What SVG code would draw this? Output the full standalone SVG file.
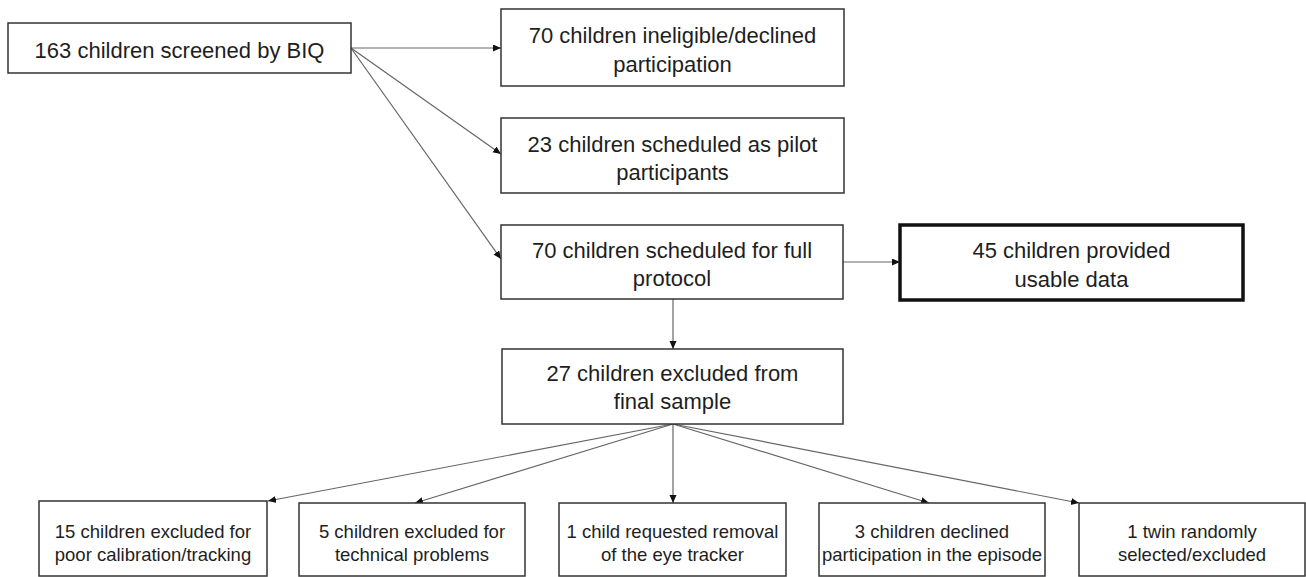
<svg xmlns="http://www.w3.org/2000/svg" width="1306" height="577" viewBox="0 0 1306 577">
<defs>
<style>
.box{fill:#fff;stroke:#333;stroke-width:1.5}
.thick{fill:#fff;stroke:#111;stroke-width:3.5}
.t{font-family:"Liberation Sans",Arial,sans-serif;font-size:22px;fill:#1e1e1e;text-anchor:middle}
.s{font-family:"Liberation Sans",Arial,sans-serif;font-size:18.5px;fill:#1e1e1e;text-anchor:middle}
.c{fill:none;stroke:#666;stroke-width:1.2;marker-end:url(#arr)}
</style>
<marker id="arr" markerUnits="userSpaceOnUse" markerWidth="9" markerHeight="8" refX="8" refY="3.5" orient="auto">
<path d="M0,0 L8,3.5 L0,7 z" fill="#111"/>
</marker>
</defs>
<rect width="1306" height="577" fill="#fff"/>
<g id="connectors">
<line class="c" x1="351" y1="48" x2="501" y2="48"/>
<line class="c" x1="351" y1="48" x2="501" y2="154"/>
<line class="c" x1="351" y1="48" x2="501" y2="259"/>
<line class="c" x1="843" y1="262" x2="900" y2="262"/>
<line class="c" x1="673" y1="299" x2="673" y2="349"/>
<line class="c" x1="673" y1="424" x2="268" y2="501"/>
<line class="c" x1="673" y1="424" x2="415" y2="503"/>
<line class="c" x1="673" y1="424" x2="673" y2="503"/>
<line class="c" x1="673" y1="424" x2="929" y2="503"/>
<line class="c" x1="673" y1="424" x2="1079" y2="503"/>
</g>
<g id="n1"><rect class="box" x="8" y="23" width="343" height="50"/><text class="t" x="179.5" y="57.5">163 children screened by BIQ</text></g>
<g id="n2"><rect class="box" x="501" y="9" width="343" height="77"/><text class="t" x="672.5" y="43">70 children ineligible/declined</text><text class="t" x="672.5" y="72">participation</text></g>
<g id="n3"><rect class="box" x="501" y="118" width="343" height="75"/><text class="t" x="672.5" y="152">23 children scheduled as pilot</text><text class="t" x="672.5" y="180">participants</text></g>
<g id="n4"><rect class="box" x="501" y="225" width="342" height="74"/><text class="t" x="672" y="258">70 children scheduled for full</text><text class="t" x="672" y="286">protocol</text></g>
<g id="n5"><rect class="thick" x="900" y="225" width="343" height="75"/><text class="t" x="1071.5" y="258">45 children provided</text><text class="t" x="1071.5" y="287">usable data</text></g>
<g id="n6"><rect class="box" x="502" y="349" width="341" height="75"/><text class="t" x="672.5" y="381">27 children excluded from</text><text class="t" x="672.5" y="409">final sample</text></g>
<g id="n7"><rect class="box" x="39" y="501" width="228" height="75"/><text class="s" x="153" y="538">15 children excluded for</text><text class="s" x="153" y="561">poor calibration/tracking</text></g>
<g id="n8"><rect class="box" x="299" y="503" width="226" height="73"/><text class="s" x="412" y="538">5 children excluded for</text><text class="s" x="412" y="561">technical problems</text></g>
<g id="n9"><rect class="box" x="559" y="503" width="227" height="73"/><text class="s" x="672.5" y="538">1 child requested removal</text><text class="s" x="672.5" y="561">of the eye tracker</text></g>
<g id="n10"><rect class="box" x="819" y="503" width="226" height="73"/><text class="s" x="932" y="538">3 children declined</text><text class="s" x="932" y="561">participation in the episode</text></g>
<g id="n11"><rect class="box" x="1079" y="503" width="226" height="73"/><text class="s" x="1192" y="538">1 twin randomly</text><text class="s" x="1192" y="561">selected/excluded</text></g>
</svg>
